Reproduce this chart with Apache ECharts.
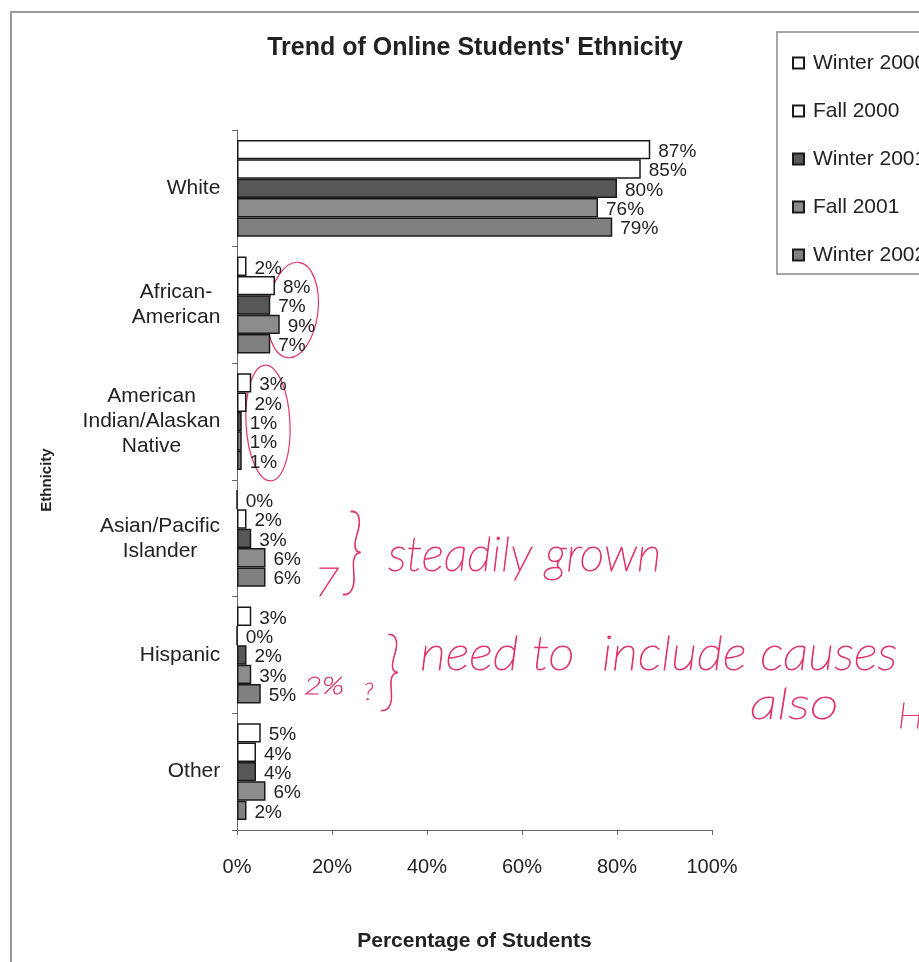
<!DOCTYPE html>
<html>
<head>
<meta charset="utf-8">
<script src="https://cdn.jsdelivr.net/npm/echarts@6/dist/echarts.min.js"></script>
<style>
  html, body { margin: 0; padding: 0; background: #fff; }
  #chart { width: 919px; height: 962px; }
</style>
</head>
<body>
<div id="chart"></div>
<script>
// Ethnic groups, top to bottom
const categories = [
  'White',
  'African-\nAmerican',
  'American\nIndian/Alaskan\nNative',
  'Asian/Pacific\nIslander',
  'Hispanic',
  'Other'
];

// Terms (one bar series each)
const terms = ['Winter 2000', 'Fall 2000', 'Winter 2001', 'Fall 2001', 'Winter 2002'];

// Percentage of students per ethnic group, by term
const winter2000 = [87, 2, 3, 0, 3, 5];
const fall2000   = [85, 8, 2, 2, 0, 4];
const winter2001 = [80, 7, 1, 3, 2, 4];
const fall2001   = [76, 9, 1, 6, 3, 6];
const winter2002 = [79, 7, 1, 6, 5, 2];

const xTicks = [0, 20, 40, 60, 80, 100];

const seriesValues = [winter2000, fall2000, winter2001, fall2001, winter2002];
const fills = ['#ffffff', '#ffffff', '#575757', '#8c8c8c', '#808080'];

const FONT = '"Liberation Sans", Arial, sans-serif';
const INK = '#222222';
const PEN = '#e0356c';

// Centre each line of a wrapped category label within the label block
const ctx = document.createElement('canvas').getContext('2d');
ctx.font = '21px "Liberation Sans"';
const rich = {};
categories.forEach(function (c, i) {
  const w = Math.max.apply(null, c.split('\n').map(function (l) { return ctx.measureText(l).width; }));
  rich['l' + i] = { width: Math.ceil(w) + 1, align: 'center', fontSize: 21, fontFamily: FONT, color: INK, lineHeight: 25 };
});

const chart = echarts.init(document.getElementById('chart'));

const series = terms.map(function (name, k) {
  return {
    name: name,
    type: 'bar',
    data: seriesValues[k],
    barGap: '0%',
    barCategoryGap: '17%',
    itemStyle: { color: fills[k], borderColor: '#1a1a1a', borderWidth: 1.5 },
    label: {
      show: true,
      position: 'right',
      distance: 8,
      offset: [0, 2],
      formatter: '{c}%',
      fontFamily: FONT,
      fontSize: 19,
      color: INK
    },
    emphasis: { disabled: true },
    animation: false
  };
});

// Handwritten notes in red pen
const penText = function (x, y, text, size, sx, sy) {
  return {
    type: 'text', x: x, y: y, scaleX: sx || 1, scaleY: sy || 1,
    style: {
      text: text, fill: PEN, stroke: PEN, lineWidth: 0.8,
      font: 'italic 200 ' + size + 'px Lato, "DejaVu Sans", sans-serif',
      textVerticalAlign: 'middle'
    },
    silent: true
  };
};

chart.setOption({
  animation: false,
  backgroundColor: '#ffffff',
  title: {
    text: "Trend of Online Students' Ethnicity",
    left: 470, top: 31,
    textAlign: 'center',
    textStyle: { fontFamily: FONT, fontSize: 25, fontWeight: 'bold', color: INK }
  },
  legend: {
    data: terms,
    orient: 'vertical',
    left: 787, top: 47,
    itemWidth: 11, itemHeight: 11,
    itemGap: 26,
    icon: 'rect',
    textStyle: { fontFamily: FONT, fontSize: 21, lineHeight: 22, color: INK, padding: [0, 0, 0, 4] },
    selectedMode: false
  },
  grid: { left: 237, right: 207, top: 130, bottom: 132, containLabel: false },
  xAxis: {
    type: 'value',
    min: 0, max: 100, interval: 20,
    name: 'Percentage of Students',
    nameLocation: 'middle',
    nameGap: 101,
    nameTextStyle: { fontFamily: FONT, fontSize: 21, fontWeight: 'bold', color: INK },
    axisLine: { show: true, lineStyle: { color: '#666', width: 1 } },
    axisTick: { show: true, length: 5, lineStyle: { color: '#666' } },
    splitLine: { show: false },
    axisLabel: {
      margin: 27,
      fontFamily: FONT, fontSize: 20, color: INK,
      formatter: function (v) { return xTicks.indexOf(v) >= 0 ? v + '%' : ''; }
    }
  },
  yAxis: {
    type: 'category',
    data: categories,
    inverse: true,
    name: 'Ethnicity',
    nameLocation: 'middle',
    nameGap: 183,
    nameRotate: 90,
    nameTextStyle: { fontFamily: FONT, fontSize: 15, fontWeight: 'bold', color: INK },
    axisLine: { show: true, lineStyle: { color: '#666', width: 1 } },
    axisTick: { show: true, length: 5, lineStyle: { color: '#666' } },
    axisLabel: {
      margin: 16,
      formatter: function (value, idx) {
        return value.split('\n').map(function (l) { return '{l' + idx + '|' + l + '}'; }).join('\n');
      },
      rich: rich
    }
  },
  series: series,
  graphic: [
    // page frame
    { type: 'polyline', shape: { points: [[11, 962], [11, 12], [919, 12]] }, style: { stroke: '#9a9a9a', lineWidth: 2, fill: null }, silent: true },
    // legend box
    { type: 'rect', shape: { x: 777, y: 32, width: 300, height: 242 }, style: { stroke: '#8a8a8a', lineWidth: 1.5, fill: null }, silent: true, z: -1 },
    // pen loops round two groups of labels
    { type: 'ellipse', shape: { cx: 293, cy: 310, rx: 25, ry: 48 }, rotation: -0.12, originX: 293, originY: 310, style: { stroke: PEN, lineWidth: 1.2, fill: null }, silent: true },
    { type: 'ellipse', shape: { cx: 268, cy: 423, rx: 22, ry: 58 }, rotation: 0.05, originX: 268, originY: 423, style: { stroke: PEN, lineWidth: 1.2, fill: null }, silent: true },
    penText(314, 583, '7', 40, 1.1, 1),
    penText(344, 552, '}', 80, 0.9, 1.2),
    penText(388, 556, 'steadily grown', 40, 1.2, 1.2),
    penText(304, 686, '2%', 24, 1.3, 1),
    penText(364, 692, '?', 24),
    penText(382, 672, '}', 76, 0.9, 1.15),
    penText(420, 655, 'need to  include causes', 40, 1.28, 1.2),
    penText(750, 705, 'also', 40, 1.4, 1.1),
    penText(898, 716, 'H', 36)
  ]
});
</script>
</body>
</html>
